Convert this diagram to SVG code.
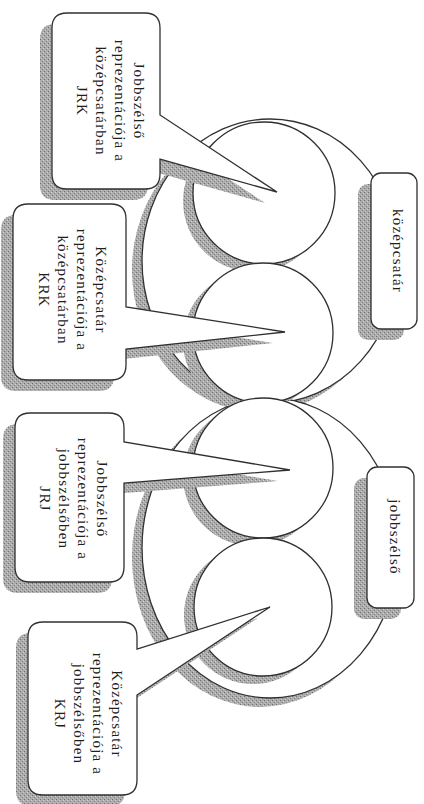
<svg xmlns="http://www.w3.org/2000/svg" width="424" height="804" viewBox="0 0 424 804">
<defs>
<pattern id="ht" width="4" height="4" patternUnits="userSpaceOnUse">
<rect width="4" height="4" fill="#acacac"/>
<rect x="0" y="0" width="1" height="1" fill="#6f6f6f"/>
<rect x="2" y="2" width="1" height="1" fill="#808080"/>
<rect x="3" y="1" width="1" height="1" fill="#d2d2d2"/>
<rect x="1" y="3" width="1" height="1" fill="#c6c6c6"/>
</pattern>
</defs>
<style>
.sh{fill:url(#ht);stroke:none}
.ln{fill:#ffffff;stroke:#303030;stroke-width:1.3}
.t{font-family:"Liberation Serif","Times New Roman",serif;font-size:15px;letter-spacing:1.2px;fill:#1e1e1e;text-anchor:middle;dominant-baseline:central}
</style>
<rect width="424" height="804" fill="#ffffff"/>

<g id="outer-kozepcsatar">
<ellipse class="sh" cx="260" cy="270" rx="128" ry="142"/>
<ellipse class="ln" cx="270" cy="261" rx="128" ry="142"/>
</g>
<g id="outer-jobbszelso">
<ellipse class="sh" cx="260" cy="557" rx="128" ry="150"/>
<ellipse class="ln" cx="270" cy="548" rx="128" ry="150"/>
</g>

<g id="circle-JRK">
<circle class="sh" cx="254" cy="201" r="71"/>
<circle class="ln" cx="264" cy="193" r="71"/>
</g>
<g id="circle-KRK">
<circle class="sh" cx="253" cy="341" r="70"/>
<circle class="ln" cx="263" cy="333" r="70"/>
</g>
<g id="circle-JRJ">
<circle class="sh" cx="253" cy="476" r="70"/>
<circle class="ln" cx="263" cy="468" r="70"/>
</g>
<g id="circle-KRJ">
<circle class="sh" cx="253" cy="615" r="69"/>
<circle class="ln" cx="263" cy="607" r="69"/>
</g>

<g id="label-kozepcsatar">
<rect class="sh" x="358" y="184" width="46" height="156" rx="10"/>
<rect class="ln" x="371" y="173" width="46" height="156" rx="10"/>
<text class="t" transform="translate(398,251) rotate(90)">középcsatár</text>
</g>
<g id="label-jobbszelso">
<rect class="sh" x="354" y="478" width="47" height="141" rx="10"/>
<rect class="ln" x="367" y="467" width="47" height="141" rx="10"/>
<text class="t" transform="translate(395,537) rotate(90)">jobbszélső</text>
</g>

<g id="callout-JRK">
<path class="sh" transform="translate(-12,11)" d="M67,13 H145 Q160,13 160,28 V115 L277,192 L160,159 V174 Q160,189 145,189 H67 Q52,189 52,174 V28 Q52,13 67,13 Z"/>
<path class="ln" d="M67,13 H145 Q160,13 160,28 V115 L277,192 L160,159 V174 Q160,189 145,189 H67 Q52,189 52,174 V28 Q52,13 67,13 Z"/>
<text class="t" transform="translate(138.5,101) rotate(90)">Jobbszélső</text>
<text class="t" transform="translate(119.5,101) rotate(90)">reprezentációja a</text>
<text class="t" transform="translate(100.5,101) rotate(90)">középcsatárban</text>
<text class="t" transform="translate(81.5,101) rotate(90)">JRK</text>
</g>
<g id="callout-KRK">
<path class="sh" transform="translate(-12,11)" d="M28,204 H111 Q126,204 126,219 V307 L285,332 L126,349 V365 Q126,380 111,380 H28 Q13,380 13,365 V219 Q13,204 28,204 Z"/>
<path class="ln" d="M28,204 H111 Q126,204 126,219 V307 L285,332 L126,349 V365 Q126,380 111,380 H28 Q13,380 13,365 V219 Q13,204 28,204 Z"/>
<text class="t" transform="translate(101,290) rotate(90)">Középcsatár</text>
<text class="t" transform="translate(82,290) rotate(90)">reprezentációja a</text>
<text class="t" transform="translate(63,290) rotate(90)">középcsatárban</text>
<text class="t" transform="translate(44,290) rotate(90)">KRK</text>
</g>
<g id="callout-JRJ">
<path class="sh" transform="translate(-12,11)" d="M30,413 H109 Q124,413 124,428 V442 L290,470 L124,483 V567 Q124,582 109,582 H30 Q15,582 15,567 V428 Q15,413 30,413 Z"/>
<path class="ln" d="M30,413 H109 Q124,413 124,428 V442 L290,470 L124,483 V567 Q124,582 109,582 H30 Q15,582 15,567 V428 Q15,413 30,413 Z"/>
<text class="t" transform="translate(102,499) rotate(90)">Jobbszélső</text>
<text class="t" transform="translate(83,499) rotate(90)">reprezentációja a</text>
<text class="t" transform="translate(64,499) rotate(90)">jobbszélsőben</text>
<text class="t" transform="translate(45,499) rotate(90)">JRJ</text>
</g>
<g id="callout-KRJ">
<path class="sh" transform="translate(-12,11)" d="M43,622 H122 Q137,622 137,637 V649 L270,607 L137,695 V780 Q137,795 122,795 H43 Q28,795 28,780 V637 Q28,622 43,622 Z"/>
<path class="ln" d="M43,622 H122 Q137,622 137,637 V649 L270,607 L137,695 V780 Q137,795 122,795 H43 Q28,795 28,780 V637 Q28,622 43,622 Z"/>
<text class="t" transform="translate(117,714) rotate(90)">Középcsatár</text>
<text class="t" transform="translate(98,714) rotate(90)">reprezentációja a</text>
<text class="t" transform="translate(79,714) rotate(90)">jobbszélsőben</text>
<text class="t" transform="translate(60,714) rotate(90)">KRJ</text>
</g>
<g id="connectors"/>
</svg>
